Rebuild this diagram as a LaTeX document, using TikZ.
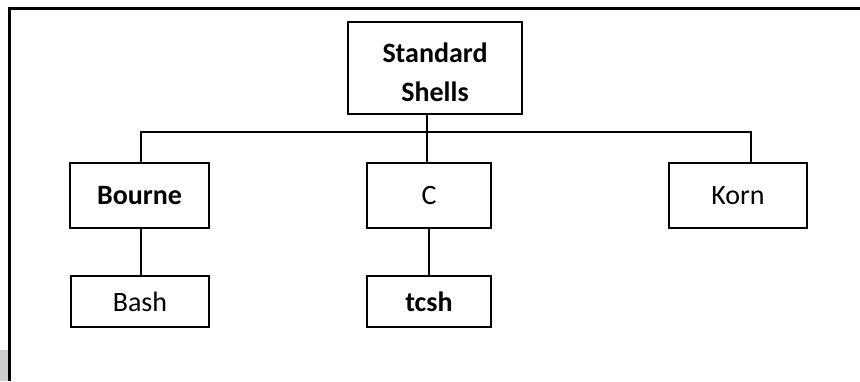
\documentclass[tikz,border=0pt]{standalone}
\usepackage{fontspec}
\setmainfont{Carlito}
\begin{document}
\begin{tikzpicture}[x=1pt,y=-1pt,
  box/.style={draw=black,line width=1.6pt,rectangle,inner sep=0pt,align=center,
    font=\fontsize{28}{39}\selectfont},
  conn/.style={draw=black,line width=1.4pt}]
\useasboundingbox (0,0) rectangle (860,381);
\fill[white] (0,0) rectangle (860,381);
\fill[gray!40] (0,350) rectangle (8,381);
\draw[line width=3pt] (9.4,381) -- (9.4,8.2) -- (860,8.2);
\node[box,minimum width=174pt,minimum height=92pt] (std) at (435,68) {\rule{0pt}{28pt}\textbf{Standard}\\[0pt]\textbf{Shells}};
\node[box,minimum width=139pt,minimum height=65pt] (bourne) at (139.5,195.5) {\textbf{Bourne}};
\node[box,minimum width=124pt,minimum height=65pt] (c) at (429,195.5) {C};
\node[box,minimum width=138pt,minimum height=65pt] (korn) at (738,195.5) {Korn};
\node[box,minimum width=138pt,minimum height=51pt] (bash) at (140,301.5) {Bash};
\node[box,minimum width=124pt,minimum height=51pt] (tcsh) at (429,301.5) {\textbf{tcsh}};
\coordinate (jb) at (141,132);
\coordinate (jc) at (427,132);
\coordinate (jk) at (751,132);
\coordinate (xb) at (141,250);
\coordinate (xc) at (429,250);
\draw[conn] (jb |- bourne.north) -- (jb) -- (jk) -- (jk |- korn.north);
\draw[conn] (jc |- std.south) -- (jc |- c.north);
\draw[conn] (xb |- bourne.south) -- (xb |- bash.north);
\draw[conn] (xc |- c.south) -- (xc |- tcsh.north);
\end{tikzpicture}
\end{document}
